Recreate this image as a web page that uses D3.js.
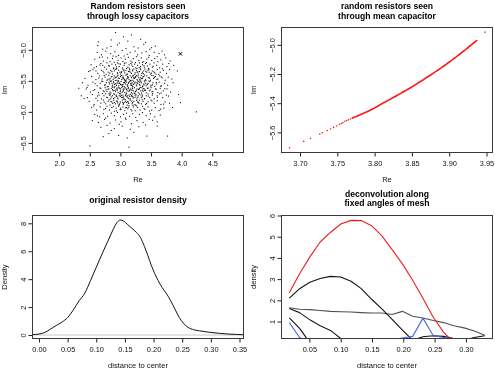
<!DOCTYPE html>
<html><head><meta charset="utf-8">
<script src="https://cdn.jsdelivr.net/npm/d3@7"></script>
<style>
body{margin:0;background:#fff}
svg{display:block;will-change:transform}
text{font-family:"Liberation Sans",Arial,Helvetica,sans-serif}
</style>
</head><body>
<svg id="c" width="495" height="372"></svg>
<script>
// ---------- Panel 1: random resistors seen through lossy capacitors (Re, Im) ----------
const lossyPts = [
[2.92,-4.72],[3.18,-4.76],[3.05,-4.79],
[2.64,-4.87],[2.85,-4.84],[3.33,-4.83],[3.41,-4.88],[3.12,-4.86],[2.98,-4.89],
[2.63,-4.93],[2.78,-4.97],[2.95,-4.92],[3.22,-4.95],[3.38,-4.91],[3.57,-4.94],[3.48,-4.99],[3.09,-4.98],[2.71,-4.99],[3.29,-4.97],
[2.62,-5.04],[2.69,-5.08],[2.76,-5.02],[2.84,-5.06],[2.91,-5.03],[2.97,-5.09],[3.03,-5.01],[3.11,-5.07],[3.16,-5.04],[3.24,-5.02],
[3.28,-5.08],[3.35,-5.05],[3.42,-5.03],[3.47,-5.09],[3.55,-5.04],[3.63,-5.06],[3.68,-5.02],[3.72,-5.08],[3.06,-5.10],[2.88,-5.10],
[2.58,-5.15],[2.66,-5.12],[2.72,-5.18],[2.79,-5.13],[2.83,-5.19],[2.87,-5.14],[2.93,-5.11],[2.96,-5.17],[3.01,-5.13],[3.04,-5.19],
[3.08,-5.15],[3.13,-5.12],[3.17,-5.18],[3.21,-5.14],[3.26,-5.11],[3.30,-5.17],[3.34,-5.13],[3.38,-5.19],[3.43,-5.15],[3.46,-5.12],
[3.51,-5.17],[3.56,-5.14],[3.61,-5.19],[3.66,-5.16],[3.74,-5.13],[3.81,-5.18],[2.90,-5.20],[3.19,-5.20],[3.36,-5.20],[3.60,-5.11],
[2.52,-5.24],[2.61,-5.27],[2.68,-5.22],[2.74,-5.28],[2.78,-5.21],[2.82,-5.26],[2.86,-5.23],[2.89,-5.29],[2.92,-5.24],[2.95,-5.21],
[2.98,-5.27],[3.00,-5.23],[3.03,-5.29],[3.06,-5.25],[3.09,-5.21],[3.12,-5.28],[3.14,-5.24],[3.17,-5.22],[3.20,-5.27],[3.23,-5.23],
[3.25,-5.29],[3.28,-5.25],[3.31,-5.21],[3.33,-5.27],[3.36,-5.24],[3.39,-5.28],[3.41,-5.22],[3.44,-5.26],[3.48,-5.23],[3.52,-5.28],
[3.55,-5.21],[3.59,-5.25],[3.64,-5.29],[3.69,-5.23],[3.76,-5.27],[3.87,-5.25],[2.71,-5.25],[2.94,-5.30],[3.10,-5.30],[3.27,-5.30],
[3.46,-5.30],[2.57,-5.29],[3.79,-5.22],
[2.48,-5.35],[2.55,-5.32],[2.63,-5.38],[2.69,-5.33],[2.73,-5.37],[2.77,-5.31],[2.80,-5.36],[2.84,-5.33],[2.87,-5.39],[2.90,-5.34],
[2.93,-5.31],[2.95,-5.37],[2.97,-5.33],[3.00,-5.39],[3.02,-5.35],[3.04,-5.31],[3.07,-5.37],[3.09,-5.33],[3.11,-5.39],[3.13,-5.35],
[3.15,-5.32],[3.18,-5.38],[3.20,-5.34],[3.22,-5.31],[3.24,-5.37],[3.26,-5.33],[3.29,-5.39],[3.31,-5.35],[3.33,-5.32],[3.35,-5.38],
[3.38,-5.34],[3.40,-5.31],[3.43,-5.36],[3.45,-5.33],[3.49,-5.39],[3.52,-5.34],[3.56,-5.37],[3.60,-5.32],[3.65,-5.36],[3.70,-5.33],
[3.75,-5.38],[3.93,-5.34],[2.86,-5.35],[3.06,-5.34],[3.16,-5.36],[3.27,-5.36],[3.47,-5.36],[2.99,-5.36],[3.36,-5.36],[2.60,-5.34],
[3.80,-5.32],[3.58,-5.39],
[2.42,-5.46],[2.53,-5.43],[2.60,-5.48],[2.66,-5.42],[2.70,-5.47],[2.75,-5.44],[2.78,-5.49],[2.81,-5.41],[2.83,-5.46],[2.86,-5.43],
[2.88,-5.48],[2.90,-5.42],[2.92,-5.45],[2.94,-5.49],[2.96,-5.41],[2.98,-5.46],[3.00,-5.43],[3.02,-5.48],[3.04,-5.42],[3.05,-5.45],
[3.07,-5.49],[3.09,-5.41],[3.11,-5.46],[3.12,-5.43],[3.14,-5.48],[3.16,-5.42],[3.18,-5.45],[3.19,-5.49],[3.21,-5.41],[3.23,-5.46],
[3.25,-5.43],[3.27,-5.48],[3.29,-5.42],[3.30,-5.45],[3.32,-5.49],[3.34,-5.41],[3.36,-5.46],[3.38,-5.43],[3.41,-5.48],[3.43,-5.42],
[3.46,-5.45],[3.49,-5.49],[3.51,-5.41],[3.54,-5.46],[3.57,-5.43],[3.61,-5.47],[3.64,-5.42],[3.68,-5.45],[3.73,-5.49],[3.78,-5.44],
[3.84,-5.47],[2.85,-5.50],[2.97,-5.50],[3.08,-5.50],[3.17,-5.50],[3.28,-5.50],[3.39,-5.50],[2.93,-5.44],[3.03,-5.45],[3.13,-5.45],
[3.22,-5.44],[3.33,-5.45],
[2.38,-5.53],[2.47,-5.57],[2.55,-5.52],[2.62,-5.58],[2.67,-5.54],[2.71,-5.51],[2.74,-5.57],[2.77,-5.53],[2.80,-5.59],[2.82,-5.55],
[2.84,-5.51],[2.87,-5.57],[2.89,-5.53],[2.91,-5.59],[2.93,-5.55],[2.95,-5.52],[2.97,-5.58],[2.99,-5.54],[3.01,-5.51],[3.03,-5.57],
[3.05,-5.53],[3.06,-5.59],[3.08,-5.55],[3.10,-5.52],[3.12,-5.58],[3.13,-5.54],[3.15,-5.51],[3.17,-5.57],[3.19,-5.53],[3.20,-5.59],
[3.22,-5.55],[3.24,-5.52],[3.26,-5.58],[3.28,-5.54],[3.30,-5.51],[3.32,-5.57],[3.34,-5.53],[3.36,-5.59],[3.38,-5.55],[3.40,-5.52],
[3.42,-5.58],[3.45,-5.54],[3.48,-5.51],[3.50,-5.57],[3.53,-5.53],[3.56,-5.59],[3.59,-5.55],[3.63,-5.52],[3.67,-5.58],[3.72,-5.54],
[3.77,-5.57],[3.86,-5.53],[2.90,-5.56],[3.00,-5.56],[3.11,-5.56],[3.21,-5.56],[3.31,-5.56],[3.44,-5.56],[2.96,-5.54],[3.07,-5.53],
[3.18,-5.55],[3.27,-5.53],[2.86,-5.54],[3.04,-5.56],
[2.32,-5.62],[2.44,-5.63],[2.51,-5.68],[2.58,-5.64],[2.64,-5.69],[2.68,-5.62],[2.72,-5.66],[2.75,-5.61],[2.78,-5.67],[2.81,-5.63],
[2.83,-5.68],[2.85,-5.62],[2.88,-5.66],[2.90,-5.61],[2.92,-5.67],[2.94,-5.63],[2.96,-5.69],[2.98,-5.62],[3.00,-5.66],[3.02,-5.61],
[3.04,-5.67],[3.06,-5.63],[3.07,-5.69],[3.09,-5.62],[3.11,-5.66],[3.13,-5.61],[3.14,-5.67],[3.16,-5.63],[3.18,-5.69],[3.20,-5.62],
[3.21,-5.66],[3.23,-5.61],[3.25,-5.67],[3.27,-5.63],[3.29,-5.69],[3.31,-5.62],[3.33,-5.66],[3.35,-5.61],[3.37,-5.67],[3.39,-5.63],
[3.42,-5.69],[3.44,-5.62],[3.47,-5.66],[3.50,-5.61],[3.53,-5.67],[3.57,-5.63],[3.61,-5.69],[3.65,-5.62],[3.70,-5.66],[3.76,-5.63],
[3.82,-5.68],[2.95,-5.65],[3.05,-5.65],[3.15,-5.65],[3.26,-5.65],[3.36,-5.65],[2.87,-5.64],[3.00,-5.63],[3.10,-5.64],[3.19,-5.65],
[3.30,-5.64],[3.41,-5.65],
[2.36,-5.74],[2.46,-5.77],[2.54,-5.72],[2.60,-5.78],[2.65,-5.73],[2.69,-5.79],[2.73,-5.74],[2.76,-5.71],[2.79,-5.77],[2.82,-5.73],
[2.84,-5.79],[2.87,-5.74],[2.89,-5.71],[2.91,-5.77],[2.93,-5.73],[2.96,-5.79],[2.98,-5.74],[3.00,-5.71],[3.02,-5.77],[3.04,-5.73],
[3.06,-5.79],[3.08,-5.74],[3.10,-5.71],[3.12,-5.77],[3.14,-5.73],[3.16,-5.79],[3.18,-5.74],[3.20,-5.71],[3.22,-5.77],[3.24,-5.73],
[3.27,-5.79],[3.29,-5.74],[3.31,-5.71],[3.34,-5.77],[3.36,-5.73],[3.39,-5.79],[3.42,-5.74],[3.45,-5.71],[3.48,-5.77],[3.52,-5.73],
[3.55,-5.79],[3.60,-5.74],[3.64,-5.71],[3.69,-5.77],[3.75,-5.73],[3.95,-5.72],[2.94,-5.75],[3.05,-5.76],[3.15,-5.75],[3.25,-5.76],
[3.00,-5.75],[3.20,-5.75],[2.85,-5.76],[3.11,-5.74],
[2.49,-5.83],[2.57,-5.88],[2.63,-5.82],[2.68,-5.86],[2.72,-5.81],[2.76,-5.87],[2.80,-5.83],[2.83,-5.89],[2.86,-5.84],[2.89,-5.81],
[2.92,-5.87],[2.95,-5.83],[2.97,-5.89],[3.00,-5.84],[3.03,-5.81],[3.05,-5.87],[3.08,-5.83],[3.11,-5.89],[3.13,-5.84],[3.16,-5.81],
[3.19,-5.87],[3.22,-5.83],[3.25,-5.89],[3.28,-5.84],[3.31,-5.81],[3.34,-5.87],[3.37,-5.83],[3.41,-5.88],[3.45,-5.84],[3.50,-5.81],
[3.55,-5.86],[3.60,-5.82],[3.66,-5.88],[3.73,-5.84],[3.80,-5.86],[3.98,-5.85],[2.99,-5.86],[3.10,-5.85],[3.20,-5.85],[3.06,-5.85],
[2.90,-5.85],[3.30,-5.86],
[2.53,-5.93],[2.61,-5.97],[2.67,-5.92],[2.73,-5.96],[2.78,-5.91],[2.82,-5.97],[2.86,-5.93],[2.90,-5.99],[2.93,-5.94],[2.97,-5.91],
[3.01,-5.96],[3.04,-5.92],[3.07,-5.98],[3.10,-5.93],[3.14,-5.90],[3.17,-5.96],[3.21,-5.92],[3.24,-5.98],[3.28,-5.93],[3.32,-5.97],
[3.36,-5.91],[3.40,-5.96],[3.45,-5.92],[3.51,-5.97],[3.57,-5.93],[3.63,-5.98],[3.71,-5.94],[3.85,-5.93],[4.24,-6.00],[3.12,-5.95],
[3.00,-5.94],
[2.58,-6.04],[2.66,-6.08],[2.72,-6.03],[2.79,-6.07],[2.85,-6.02],[2.90,-6.06],[2.95,-6.01],[3.00,-6.08],[3.05,-6.04],[3.10,-6.02],
[3.15,-6.07],[3.20,-6.03],[3.25,-6.09],[3.31,-6.04],[3.36,-6.01],[3.42,-6.06],[3.49,-6.03],[3.56,-6.08],[3.65,-6.05],[2.76,-6.10],
[3.08,-6.10],
[2.54,-6.14],[2.64,-6.17],[2.74,-6.12],[2.83,-6.18],[2.92,-6.13],[3.01,-6.16],[3.09,-6.12],[3.18,-6.19],[3.27,-6.14],[3.37,-6.17],
[3.47,-6.12],[3.60,-6.16],[2.98,-6.20],
[2.68,-6.25],[2.78,-6.22],[2.90,-6.27],[3.03,-6.23],[3.16,-6.28],[3.30,-6.24],[3.41,-6.21],[3.60,-6.23],[2.85,-6.30],
[2.81,-6.35],[2.97,-6.38],[3.22,-6.33],[3.43,-6.39],[3.77,-6.39],[3.11,-6.42],[2.72,-6.40],
[2.50,-6.55],[3.14,-6.57]
];
const lossyPtsCore = [
[2.805,-5.255],[2.935,-5.275],[3.065,-5.215],[3.185,-5.245],[3.305,-5.285],[3.425,-5.205],[3.535,-5.265],[2.665,-5.245],[3.145,-5.295],[3.245,-5.205],[2.975,-5.225],[3.385,-5.255],
[2.715,-5.345],[2.825,-5.375],[2.915,-5.315],[3.015,-5.365],[3.105,-5.395],[3.195,-5.325],[3.285,-5.355],[3.375,-5.385],[3.465,-5.315],[3.545,-5.355],
[3.625,-5.395],[2.765,-5.395],[2.885,-5.305],[3.055,-5.325],[3.235,-5.395],[3.415,-5.345],[2.955,-5.385],[3.145,-5.345],[3.325,-5.305],[3.505,-5.375],
[2.645,-5.455],[2.735,-5.415],[2.795,-5.475],[2.855,-5.435],[2.915,-5.495],[2.965,-5.455],[3.015,-5.415],[3.065,-5.475],[3.115,-5.435],[3.165,-5.495],
[3.215,-5.455],[3.265,-5.415],[3.315,-5.475],[3.365,-5.435],[3.415,-5.495],[3.475,-5.455],[3.535,-5.415],[3.595,-5.475],[3.665,-5.435],[2.895,-5.455],
[3.045,-5.465],[3.195,-5.425],[3.345,-5.465],[2.945,-5.425],[3.095,-5.485],[3.245,-5.445],[3.395,-5.405],[2.825,-5.485],[3.555,-5.445],
[2.585,-5.545],[2.695,-5.505],[2.755,-5.565],[2.815,-5.525],[2.865,-5.585],[2.915,-5.545],[2.965,-5.505],[3.015,-5.565],[3.065,-5.525],[3.115,-5.585],
[3.165,-5.545],[3.215,-5.505],[3.265,-5.565],[3.315,-5.525],[3.365,-5.585],[3.415,-5.545],[3.465,-5.505],[3.525,-5.565],[3.585,-5.525],[3.655,-5.585],
[2.885,-5.515],[3.035,-5.595],[3.185,-5.575],[3.335,-5.505],[2.935,-5.575],[3.085,-5.505],[3.235,-5.535],[3.385,-5.565],[2.785,-5.595],[3.495,-5.585],
[3.135,-5.525],[2.985,-5.535],
[2.555,-5.655],[2.665,-5.615],[2.735,-5.675],[2.795,-5.635],[2.845,-5.695],[2.895,-5.655],[2.945,-5.615],[2.995,-5.675],[3.045,-5.635],[3.095,-5.695],
[3.145,-5.655],[3.195,-5.615],[3.245,-5.675],[3.295,-5.635],[3.345,-5.695],[3.395,-5.655],[3.455,-5.615],[3.515,-5.675],[3.585,-5.635],[3.665,-5.695],
[2.875,-5.605],[3.025,-5.685],[3.175,-5.645],[3.325,-5.605],[2.925,-5.645],[3.075,-5.605],[3.225,-5.695],[3.375,-5.625],[2.765,-5.645],[3.485,-5.645],
[3.125,-5.625],[2.975,-5.605],
[2.625,-5.745],[2.705,-5.705],[2.775,-5.765],[2.835,-5.725],[2.885,-5.785],[2.935,-5.745],[2.985,-5.705],[3.035,-5.765],[3.085,-5.725],[3.135,-5.785],
[3.185,-5.745],[3.235,-5.705],[3.285,-5.765],[3.335,-5.725],[3.395,-5.785],[3.455,-5.745],[3.525,-5.705],[3.605,-5.765],[2.905,-5.715],[3.055,-5.795],
[3.205,-5.775],[3.355,-5.755],[2.955,-5.775],[3.105,-5.755],[3.255,-5.725],[2.815,-5.705],[3.165,-5.715],[3.015,-5.735],
[2.735,-5.845],[2.815,-5.805],[2.875,-5.865],[2.935,-5.825],[2.985,-5.885],[3.035,-5.845],[3.085,-5.805],[3.135,-5.865],[3.185,-5.825],[3.235,-5.885],
[3.295,-5.845],[3.355,-5.805],[3.425,-5.865],[3.515,-5.825],[2.955,-5.855],[3.115,-5.835],[3.265,-5.815],[3.045,-5.875],[2.845,-5.835],[3.205,-5.895],
[2.755,-5.945],[2.885,-5.915],[2.995,-5.965],[3.085,-5.935],[3.185,-5.985],[3.265,-5.905],[3.385,-5.945],[3.475,-5.985],[2.935,-5.985],[3.135,-5.925],
[2.455,-5.605],[2.505,-5.335],[2.565,-5.905],[2.405,-5.785],[3.685,-5.305],[3.725,-5.625],[3.785,-5.745],[3.705,-5.875],[3.655,-5.955],[2.625,-6.065],
[3.525,-6.135],[2.705,-5.115],[3.505,-4.965],[2.845,-4.945]
];
const lossyMarker = [3.98, -5.065];

// ---------- Panel 2: random resistors seen through mean capacitor ----------
const meanRe = [3.686,3.705,3.714,3.7265,3.730,3.7365,3.741,3.745,3.749,3.753,3.7555,3.7575,
3.7600,3.7625,3.7650,3.7675,3.7700,3.7725,3.7750,3.7775,3.7800,3.7825,3.7850,3.7875,3.7900,3.7925,3.7950,3.7975,
3.8000,3.8025,3.8050,3.8075,3.8100,3.8125,3.8150,3.8175,3.8200,3.8225,3.8250,3.8275,3.8300,3.8325,3.8350,3.8375,
3.8400,3.8425,3.8450,3.8475,3.8500,3.8525,3.8550,3.8575,3.8600,3.8625,3.8650,3.8675,3.8700,3.8725,3.8750,3.8775,
3.8800,3.8825,3.8850,3.8875,3.8900,3.8925,3.8950,3.8975,3.9000,3.9025,3.9050,3.9075,3.9100,3.9125,3.9150,3.9175,
3.9200,3.9225,3.9250,3.9275,3.9300,3.9325,3.9350,3.9370,3.948];
const meanIm = [-5.706,-5.662,-5.641,-5.612,-5.603,-5.588,-5.577,-5.566,-5.556,-5.546,-5.540,-5.533,
-5.524,-5.519,-5.513,-5.508,-5.503,-5.497,-5.492,-5.486,-5.481,-5.475,-5.470,-5.464,-5.458,-5.452,-5.445,-5.439,
-5.432,-5.425,-5.418,-5.410,-5.403,-5.396,-5.389,-5.382,-5.375,-5.368,-5.361,-5.354,-5.347,-5.340,-5.333,-5.325,
-5.318,-5.311,-5.303,-5.296,-5.288,-5.280,-5.272,-5.264,-5.256,-5.248,-5.240,-5.231,-5.223,-5.215,-5.207,-5.198,
-5.190,-5.181,-5.173,-5.164,-5.155,-5.146,-5.137,-5.127,-5.118,-5.109,-5.099,-5.090,-5.080,-5.070,-5.060,-5.050,
-5.040,-5.030,-5.019,-5.009,-4.998,-4.988,-4.978,-4.970,-4.913];
const meanDenseFrom = 16, meanDenseTo = 83;   // index range where points overlap into a band

// ---------- Panel 3: original resistor density ----------
const densX = [-0.011,0.0,0.01,0.02,0.03,0.04,0.05,0.06,0.07,0.08,0.09,0.10,0.11,0.12,0.13,0.136,0.142,0.148,0.155,0.162,
0.17,0.177,0.184,0.19,0.196,0.202,0.208,0.215,0.222,0.23,0.238,0.245,0.252,0.26,0.27,0.28,0.29,0.30,0.315,0.33,0.345,0.357];
const densY = [0.03,0.07,0.18,0.42,0.68,0.92,1.25,1.8,2.45,3.0,3.9,4.85,5.8,6.7,7.6,8.05,8.24,8.15,7.9,7.65,
7.35,7.0,6.35,5.7,5.0,4.4,3.9,3.4,3.0,2.45,1.8,1.25,0.85,0.55,0.38,0.3,0.24,0.18,0.12,0.07,0.04,0.02];

// ---------- Panel 4: deconvolution along fixed angles of mesh ----------
const deconvX = [0.018,0.0344,0.0508,0.0673,0.0837,0.1001,0.1165,0.1329,0.1494,0.1658,0.1822,0.1986,0.2150,0.2314,0.2479,0.2643,0.2807,0.2971,0.3135,0.3300];
const deconvRed   = [2.36,3.25,4.05,4.75,5.2,5.6,5.77,5.76,5.52,5.04,4.39,3.72,2.95,2.1,1.2,0.5,0,0,0,0];
const deconvDark1 = [2.1,2.55,2.85,3.03,3.13,3.1,2.9,2.55,2.05,1.6,1.1,0.6,0.12,0.28,0.33,0.3,0.2,0.12,0.25,0.33];
const deconvGray  = [1.65,1.58,1.56,1.52,1.48,1.46,1.45,1.42,1.40,1.40,1.33,1.48,1.25,1.17,1.05,0.95,0.8,0.7,0.55,0.35];
const deconvDark2 = [1.62,1.42,1.08,0.8,0.58,0.2,0,0,0,0,0,0,0,0,0,0,0,0,0,0];
const deconvDark3 = [1.17,0.68,0,0,0,0,0,0,0,0,0,0,0,0,0,0,0,0,0,0];
const deconvBlue  = [0.95,0.25,0,0,0,0,0,0,0,0,0.15,0.22,0.3,1.16,0.33,0.25,0.18,0,0,0];

// ---------- tick values ----------
const p1XTicks = [2.0,2.5,3.0,3.5,4.0,4.5];
const p1YTicks = [-5.0,-5.5,-6.0,-6.5];
const p2XTicks = [3.70,3.75,3.80,3.85,3.90,3.95];
const p2YTicks = [-5.0,-5.2,-5.4,-5.6];
const p3XTicks = [0.00,0.05,0.10,0.15,0.20,0.25,0.30,0.35];
const p3YTicks = [0,2,4,6,8];
const p4XTicks = [0.05,0.10,0.15,0.20,0.25,0.30];
const p4YTicks = [1,2,3,4,5,6];

const svg = d3.select('#c');
svg.append('rect').attr('width',495).attr('height',372).attr('fill','#fff');
let clipN = 0;

function panel(c){
  const x = d3.scaleLinear().domain(c.xDom).range([c.x0, c.x1]);
  const y = d3.scaleLinear().domain(c.yDom).range([c.y1, c.y0]);
  const id = 'clp' + (clipN++);
  svg.append('clipPath').attr('id', id).append('rect')
    .attr('x', c.x0).attr('y', c.y0).attr('width', c.x1 - c.x0).attr('height', c.y1 - c.y0);
  const plot = svg.append('g').attr('clip-path', `url(#${id})`);

  const xa = svg.append('g').attr('transform', `translate(0,${c.y1})`)
    .call(d3.axisBottom(x).tickValues(c.xTicks).tickFormat(c.xFmt).tickSize(4).tickSizeOuter(0));
  xa.select('.domain').remove();
  xa.selectAll('line').attr('stroke', '#222');
  xa.selectAll('text').attr('y', 13.8).attr('dy', null).attr('font-size', 7.4).attr('fill', '#111');

  const ya = svg.append('g').attr('transform', `translate(${c.x0},0)`)
    .call(d3.axisLeft(y).tickValues(c.yTicks).tickFormat(c.yFmt).tickSize(4).tickSizeOuter(0));
  ya.select('.domain').remove();
  ya.selectAll('line').attr('stroke', '#222');
  ya.selectAll('text').attr('x', null).attr('dy', null).attr('text-anchor', 'middle')
    .attr('transform', 'translate(-6.6,0) rotate(-90)').attr('font-size', 7.4).attr('fill', '#111');

  svg.append('rect').attr('x', c.x0).attr('y', c.y0).attr('width', c.x1 - c.x0).attr('height', c.y1 - c.y0)
    .attr('fill', 'none').attr('stroke', '#3a3a3a').attr('stroke-width', 1);

  const cx = (c.x0 + c.x1) / 2;
  c.title.forEach((t, i) => {
    svg.append('text').attr('x', cx).attr('y', c.titleY[i]).attr('text-anchor', 'middle')
      .attr('font-size', 8.6).attr('font-weight', 'bold').attr('fill', '#000').text(t);
  });
  svg.append('text').attr('x', cx).attr('y', c.y1 + 29.5).attr('text-anchor', 'middle')
    .attr('font-size', 7.6).attr('fill', '#111').text(c.xlab);
  svg.append('text').attr('transform', `translate(${c.ylabX},${(c.y0 + c.y1) / 2}) rotate(-90)`)
    .attr('text-anchor', 'middle').attr('font-size', 7.6).attr('fill', '#111').text(c.ylab);
  return {x, y, plot};
}

const f1 = d3.format('.1f'), f2 = d3.format('.2f'), f0 = d3.format('d');

// Panel 1
{
  const p = panel({x0:32.5, x1:243.5, y0:27.5, y1:152.5, xDom:[1.564,5.01], yDom:[-6.655,-4.64],
    xTicks:p1XTicks, yTicks:p1YTicks, xFmt:f1, yFmt:f1,
    title:['Random resistors seen','through lossy capacitors'], titleY:[9.4,19.1],
    xlab:'Re', ylab:'Im', ylabX:6.8});
  const pts = lossyPts.concat(lossyPtsCore);
  p.plot.selectAll('rect.pt').data(pts).enter().append('rect')
    .attr('x', d => p.x(d[0]) - 0.5).attr('y', d => p.y(d[1]) - 0.5)
    .attr('width', 1.05).attr('height', 1.05).attr('fill', '#000');
  const mx = p.x(lossyMarker[0]), my = p.y(lossyMarker[1]);
  p.plot.append('path').attr('d', `M${mx-1.7},${my-1.7}L${mx+1.7},${my+1.7}M${mx-1.7},${my+1.7}L${mx+1.7},${my-1.7}`)
    .attr('stroke', '#000').attr('stroke-width', 1);
}

// Panel 2
{
  const p = panel({x0:281.5, x1:492.5, y0:27.5, y1:152.5, xDom:[3.6752,3.958], yDom:[-5.738,-4.881],
    xTicks:p2XTicks, yTicks:p2YTicks, xFmt:f2, yFmt:f1,
    title:['random resistors seen','through mean capacitor'], titleY:[9.4,19.1],
    xlab:'Re', ylab:'Im', ylabX:255.8});
  const dense = d3.range(meanDenseFrom, meanDenseTo + 1);
  const band = d3.line().x(i => p.x(meanRe[i])).y(i => p.y(meanIm[i]));
  p.plot.append('path').attr('d', band(dense)).attr('fill', 'none')
    .attr('stroke', '#ff1a1a').attr('stroke-width', 1.5);
  p.plot.selectAll('circle.pt').data(meanRe).enter().append('circle')
    .attr('cx', d => p.x(d)).attr('cy', (d, i) => p.y(meanIm[i]))
    .attr('r', 0.8).attr('fill', '#ff1a1a');
}

// Panel 3
{
  const p = panel({x0:32.5, x1:243.5, y0:215.5, y1:338.5, xDom:[-0.0113,0.357], yDom:[-0.25,8.56],
    xTicks:p3XTicks, yTicks:p3YTicks, xFmt:f2, yFmt:f0,
    title:['original resistor density'], titleY:[203],
    xlab:'distance to center', ylab:'Density', ylabX:6.8});
  p.plot.append('line').attr('x1', 32.5).attr('x2', 243.5).attr('y1', p.y(0)).attr('y2', p.y(0))
    .attr('stroke', '#c8c8c8').attr('stroke-width', 1);
  const line = d3.line().x((d, i) => p.x(densX[i])).y(d => p.y(d)).curve(d3.curveMonotoneX);
  p.plot.append('path').attr('d', line(densY)).attr('fill', 'none').attr('stroke', '#111').attr('stroke-width', 1);
}

// Panel 4
{
  const p = panel({x0:281.5, x1:492.5, y0:215.5, y1:338.5, xDom:[0.0055,0.3425], yDom:[0.2,6.0],
    xTicks:p4XTicks, yTicks:p4YTicks, xFmt:f2, yFmt:f0,
    title:['deconvolution along','fixed angles of mesh'], titleY:[196.6,206.4],
    xlab:'distance to center', ylab:'density', ylabX:255.8});
  const line = d3.line().x((d, i) => p.x(deconvX[i])).y(d => p.y(d));
  const series = [
    [deconvGray, '#505050'], [deconvDark2, '#1a1a1a'], [deconvDark3, '#111'],
    [deconvDark1, '#111'], [deconvBlue, '#4a67e6'], [deconvRed, '#f01c1c']
  ];
  series.forEach(([vals, col]) => {
    p.plot.append('path').attr('d', line(vals)).attr('fill', 'none')
      .attr('stroke', col).attr('stroke-width', 1.1).attr('stroke-linejoin', 'round');
  });
}
</script>
</body></html>
